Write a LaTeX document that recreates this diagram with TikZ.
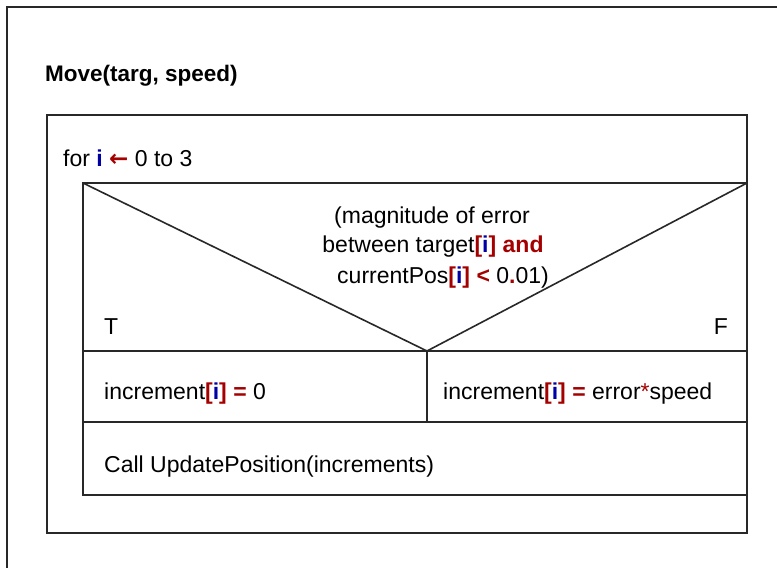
\documentclass[tikz,border=0pt]{standalone}
\usepackage{fontspec}
\setmainfont{Liberation Sans}
\newfontfamily\symfont{DejaVu Sans}
\definecolor{kwred}{RGB}{165,0,0}
\definecolor{kwblue}{RGB}{0,0,165}
\definecolor{linegray}{RGB}{40,40,40}
% keyword / operator highlighting
\newcommand{\rd}[1]{\textcolor{kwred}{\textbf{#1}}}
\newcommand{\rn}[1]{\textcolor{kwred}{#1}}
\newcommand{\ivar}{\textcolor{kwblue}{\textbf{i}}}
\newcommand{\idx}{\rd{[}\ivar\rd{]}}

\tikzset{
  nsline/.style={draw=linegray, line width=1.6pt},
  txt/.style={inner sep=0pt, anchor=base west, font=\fontsize{23}{27}\selectfont},
  ctxt/.style={txt, anchor=base},
}

\begin{document}
\begin{tikzpicture}[x=1pt, y=-1pt]
  \useasboundingbox (0,0) rectangle (777,568);
  \fill[white] (0,0) rectangle (777,568);

  % outer frame (left and top edges)
  \coordinate (fbl) at (7,568);
  \coordinate (ftl) at (7,7);
  \coordinate (ftr) at (777,7);
  \draw[nsline] (fbl) -- (ftl) -- (ftr);

  % procedure header
  \node[txt, font=\fontsize{22.5}{26}\selectfont\bfseries] (title) at (45,81) {Move(targ, speed)};

  % loop block
  \coordinate (loopTL) at (47,115);
  \coordinate (loopBR) at (747,533);
  \draw[nsline] (loopTL) rectangle (loopBR);
  \node[txt] (forhdr) at (63,166) {for \ivar\ \textcolor{kwred}{\symfont\bfseries\fontsize{23}{26}\selectfont ←} 0 to 3};

  % loop body
  \coordinate (bodyTL) at (83,183);
  \coordinate (bodyTR) at (747,183);
  \coordinate (bodyBR) at (747,495);
  \coordinate (apex) at (427,351);
  \coordinate (rowAL) at (83,351);
  \coordinate (rowAR) at (747,351);
  \coordinate (rowBL) at (83,422);
  \coordinate (rowBR) at (747,422);
  \coordinate (divB) at (427,422);
  \draw[nsline] (bodyTL) rectangle (bodyBR);
  \draw[nsline] (rowAL) -- (rowAR);
  \draw[nsline] (rowBL) -- (rowBR);
  \draw[nsline] (apex) -- (divB);
  \draw[nsline] (bodyTL) -- (apex) -- (bodyTR);

  % condition
  \node[ctxt] (cond1) at (432,223) {(magnitude of error};
  \node[ctxt] (cond2) at (433,252) {between target\idx{} \rd{and}};
  \node[ctxt] (cond3) at (443,283) {currentPos\idx{} \rd{<} 0\rd{.}01)};
  \node[txt] (tlabel) at (104,334) {T};
  \node[txt, anchor=base east] (flabel) at (728,334) {F};

  % branches
  \node[txt] (thenstmt) at (104,399) {increment\idx{} \rd{=} 0};
  \node[txt] (elsestmt) at (443,399) {increment\idx{} \rd{=} error\rn{*}speed};

  % call after the decision
  \node[txt] (callstmt) at (104,472) {Call UpdatePosition(increments)};
\end{tikzpicture}
\end{document}
